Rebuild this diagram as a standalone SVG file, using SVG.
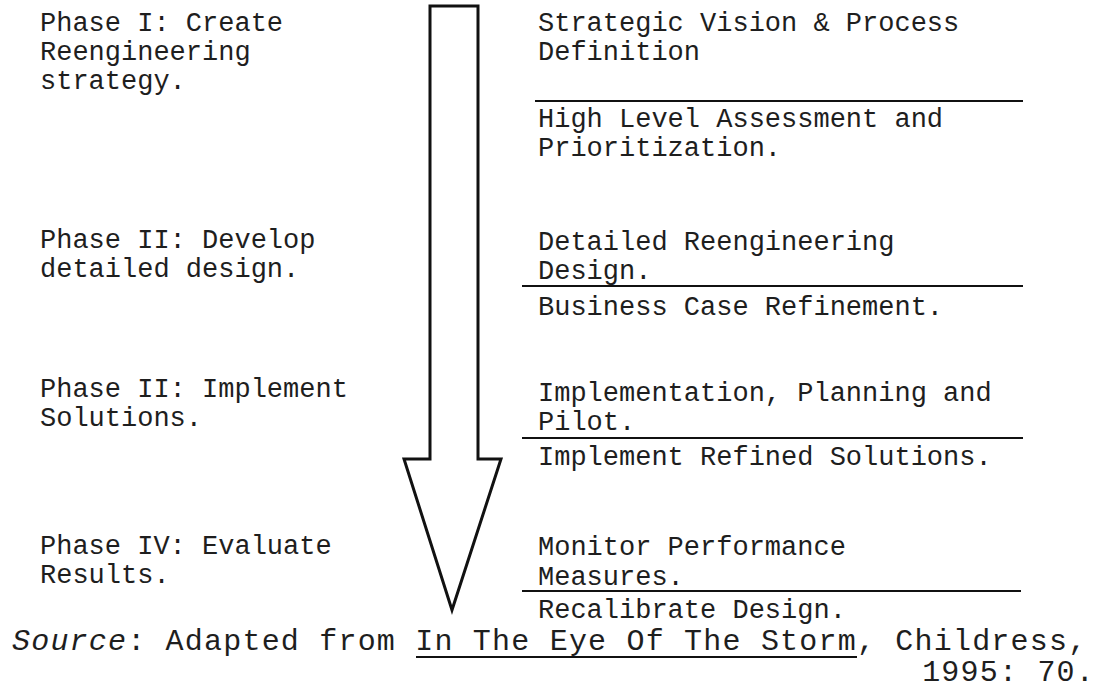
<svg xmlns="http://www.w3.org/2000/svg" width="1101" height="692" viewBox="0 0 1101 692">
  <style>
    .body { font-family: "Liberation Mono", "DejaVu Sans Mono", monospace; font-size: 27px; fill: #1e1e1e; }
    .src { font-family: "Liberation Mono", "DejaVu Sans Mono", monospace; font-size: 30px; letter-spacing: 1.2px; fill: #1e1e1e; }
    .rule { stroke: #111; stroke-width: 2; fill: none; }
    .arrow { stroke: #111; stroke-width: 3; fill: #fff; stroke-linejoin: miter; }
  </style>
  <rect width="1101" height="692" fill="#fff"/>

  <!-- big downward process arrow -->
  <g id="flow-arrow">
    <polygon class="arrow" points="430,6 478,6 478,459 501,459 452,610 404,459 430,459"/>
  </g>

  <!-- phase labels, left column -->
  <g id="phase-1">
    <text class="body" x="40" y="31">Phase I: Create</text>
    <text class="body" x="40" y="60">Reengineering</text>
    <text class="body" x="40" y="89">strategy.</text>
  </g>
  <g id="phase-2">
    <text class="body" x="40" y="248">Phase II: Develop</text>
    <text class="body" x="40" y="277">detailed design.</text>
  </g>
  <g id="phase-3">
    <text class="body" x="40" y="397">Phase II: Implement</text>
    <text class="body" x="40" y="426">Solutions.</text>
  </g>
  <g id="phase-4">
    <text class="body" x="40" y="554">Phase IV: Evaluate</text>
    <text class="body" x="40" y="583">Results.</text>
  </g>

  <!-- activities, right column -->
  <g id="step-vision">
    <text class="body" x="538" y="31">Strategic Vision &amp; Process</text>
    <text class="body" x="538" y="60">Definition</text>
  </g>
  <g id="step-assessment">
    <text class="body" x="538" y="127">High Level Assessment and</text>
    <text class="body" x="538" y="156">Prioritization.</text>
  </g>
  <g id="step-design">
    <text class="body" x="538" y="250">Detailed Reengineering</text>
    <text class="body" x="538" y="279">Design.</text>
  </g>
  <g id="step-business-case">
    <text class="body" x="538" y="315">Business Case Refinement.</text>
  </g>
  <g id="step-planning">
    <text class="body" x="538" y="401">Implementation, Planning and</text>
    <text class="body" x="538" y="430">Pilot.</text>
  </g>
  <g id="step-implement">
    <text class="body" x="538" y="465">Implement Refined Solutions.</text>
  </g>
  <g id="step-monitor">
    <text class="body" x="538" y="555">Monitor Performance</text>
    <text class="body" x="538" y="585">Measures.</text>
  </g>
  <g id="step-recalibrate">
    <text class="body" x="538" y="618">Recalibrate Design.</text>
  </g>

  <!-- divider rules between activities -->
  <g id="connectors">
    <line class="rule" x1="535" y1="101" x2="1023" y2="101"/>
    <line class="rule" x1="522" y1="286" x2="1023" y2="286"/>
    <line class="rule" x1="522" y1="438" x2="1023" y2="438"/>
    <line class="rule" x1="522" y1="591" x2="1021" y2="591"/>
  </g>

  <!-- citation -->
  <g id="source-note">
    <text class="src" x="12" y="650"><tspan font-style="italic">Source</tspan>: Adapted from In The Eye Of The Storm, Childress,</text>
    <line class="rule" x1="416" y1="657" x2="857" y2="657"/>
    <text class="src" x="1095" y="681" text-anchor="end">1995: 70.</text>
  </g>
</svg>
